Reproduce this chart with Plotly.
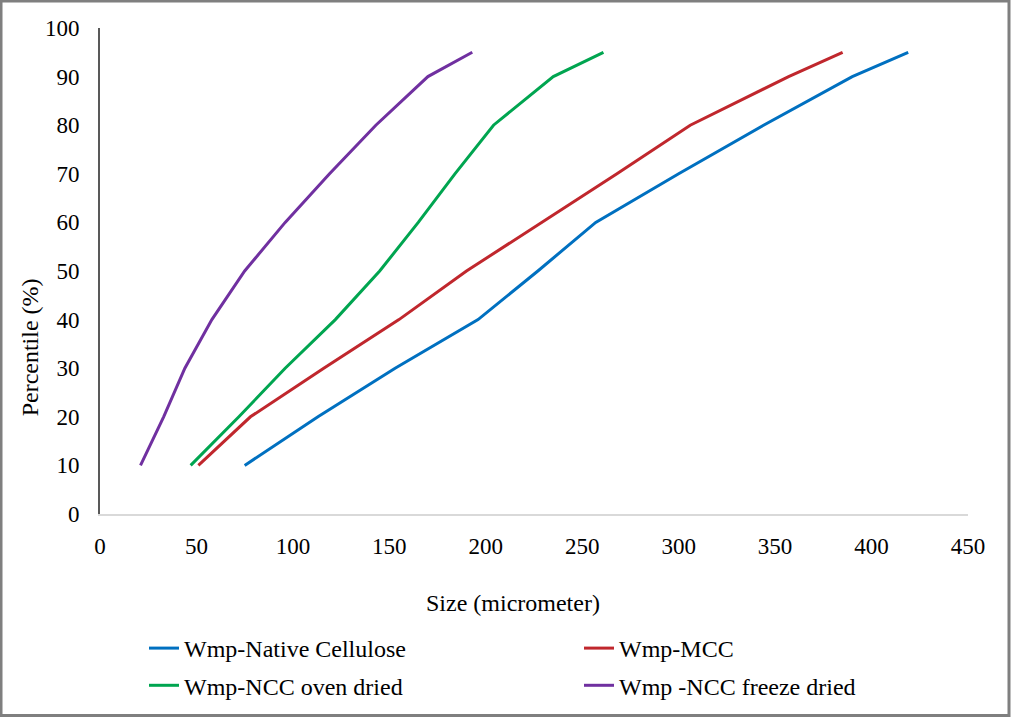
import plotly.graph_objects as go

percentiles = [10, 20, 30, 40, 50, 60, 70, 80, 90, 95]
native_cellulose = [75, 113, 153, 196, 227, 257, 300, 344, 390, 419]
mcc = [51, 78, 116, 155, 190, 229, 268, 306, 357, 385]
ncc_oven = [47, 72, 96, 122, 145, 165, 184, 204, 235, 261]
ncc_freeze = [21, 33, 44, 58, 75, 96, 119, 143, 170, 193]

x_ticks = [0, 50, 100, 150, 200, 250, 300, 350, 400, 450]
y_ticks = [0, 10, 20, 30, 40, 50, 60, 70, 80, 90, 100]

series = [
    ("Wmp-Native Cellulose", native_cellulose, "#0070C0", "legend", "g1"),
    ("Wmp-MCC", mcc, "#C0272D", "legend2", "g3"),
    ("Wmp-NCC oven dried", ncc_oven, "#00A550", "legend", "g2"),
    ("Wmp -NCC freeze dried", ncc_freeze, "#7030A0", "legend2", "g4"),
]

FONT = "Liberation Serif"

fig = go.Figure()
for name, xs, color, leg, grp in series:
    fig.add_trace(go.Scatter(
        x=xs, y=percentiles, mode="lines", name=name,
        line=dict(color=color, width=3),
        legend=leg, legendgroup=grp,
    ))

W, H = 1011, 719
L, R, T, B = 100, 43, 28, 204
pw, ph = W - L - R, H - T - B

def px_x(p):
    return (p - L) / pw

def px_y(p):
    return (H - B - p) / ph

legend_common = dict(
    orientation="v", xanchor="left", yanchor="top",
    font=dict(family=FONT, size=24, color="#000000"),
    bgcolor="rgba(0,0,0,0)", tracegroupgap=3, itemclick=False,
)

fig.update_layout(
    width=W, height=H,
    margin=dict(l=L, r=R, t=T, b=B),
    paper_bgcolor="white", plot_bgcolor="white",
    font=dict(family=FONT, size=23, color="#000000"),
    showlegend=True,
    legend=dict(x=px_x(144), y=px_y(626), **legend_common),
    legend2=dict(x=px_x(579), y=px_y(626), **legend_common),
    xaxis=dict(
        range=[0, 450], tickvals=x_ticks, showgrid=False, zeroline=False,
        showline=True, linecolor="#D9D9D9", linewidth=2,
        ticks="", ticklabelstandoff=10,
        tickfont=dict(family=FONT, size=23, color="#000000"),
    ),
    yaxis=dict(
        range=[0, 100], tickvals=y_ticks, showgrid=False, zeroline=False,
        showline=True, linecolor="#595959", linewidth=2,
        ticks="", ticklabelstandoff=14,
        tickfont=dict(family=FONT, size=23, color="#000000"),
    ),
    annotations=[
        dict(text="Percentile (%)", xref="paper", yref="paper",
             x=px_x(30), y=px_y(348), showarrow=False, textangle=-90,
             font=dict(family=FONT, size=24, color="#000000"),
             xanchor="center", yanchor="middle"),
        dict(text="Size (micrometer)", xref="paper", yref="paper",
             x=px_x(513), y=px_y(604), showarrow=False,
             font=dict(family=FONT, size=24, color="#000000"),
             xanchor="center", yanchor="middle"),
    ],
    shapes=[
        dict(type="rect", xref="paper", yref="paper",
             x0=px_x(1), x1=px_x(W - 2), y0=px_y(H - 2), y1=px_y(1),
             line=dict(color="#7F7F7F", width=3), fillcolor="rgba(0,0,0,0)",
             layer="above"),
    ],
)

fig.write_html("out.html", config={"displayModeBar": False},
               post_script="document.body.style.margin='0';document.body.style.overflow='hidden';")
